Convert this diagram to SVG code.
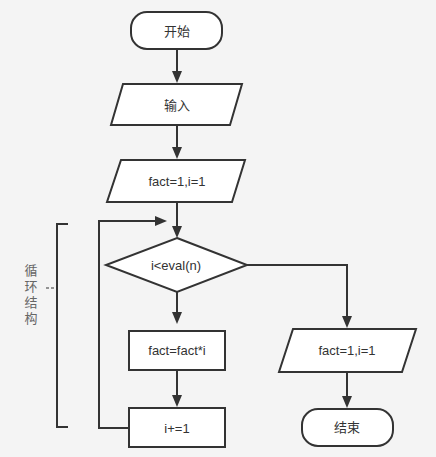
<svg xmlns="http://www.w3.org/2000/svg" width="436" height="457" viewBox="0 0 436 457">
<style>
.shape{fill:#ffffff;stroke:#333333;stroke-width:2}
.line{fill:none;stroke:#333333;stroke-width:2}
.lbl{font-family:"Liberation Sans","Noto Sans CJK SC",sans-serif;font-size:13px;fill:#333333;text-anchor:middle;dominant-baseline:central}
.note{font-family:"Noto Sans CJK SC","Liberation Sans",sans-serif;font-size:13px;fill:#666666;writing-mode:vertical-rl;letter-spacing:3px}
</style>
<defs>
<marker id="arr" markerUnits="userSpaceOnUse" markerWidth="12" markerHeight="10" refX="1" refY="5" orient="auto">
<path d="M0,0 L12,5 L0,10 z" fill="#333333"/>
</marker>
</defs>
<rect width="436" height="457" fill="#f4f4f4"/>
<g id="connectors">
<line class="line" x1="177" y1="49" x2="177" y2="72" marker-end="url(#arr)"/>
<line class="line" x1="177" y1="125" x2="177" y2="148" marker-end="url(#arr)"/>
<line class="line" x1="177" y1="202" x2="177" y2="227" marker-end="url(#arr)"/>
<line class="line" x1="177" y1="292" x2="177" y2="313" marker-end="url(#arr)"/>
<line class="line" x1="177" y1="370" x2="177" y2="396" marker-end="url(#arr)"/>
<polyline class="line" points="129,428 99,428 99,221 156,221" marker-end="url(#arr)"/>
<polyline class="line" points="247,265 347,265 347,317" marker-end="url(#arr)"/>
<line class="line" x1="347" y1="372" x2="347" y2="397" marker-end="url(#arr)"/>
</g>
<g id="start">
<rect class="shape" x="131" y="12" width="91" height="37" rx="16" ry="16"/>
<text class="lbl" x="177" y="31">开始</text>
</g>
<g id="input">
<polygon class="shape" points="123,84 242,84 230,125 111,125"/>
<text class="lbl" x="177" y="105">输入</text>
</g>
<g id="init">
<polygon class="shape" points="121,160 245,160 232,202 107,202"/>
<text class="lbl" x="177" y="181">fact=1,i=1</text>
</g>
<g id="cond">
<polygon class="shape" points="177,238 247,265 177,292 106,265"/>
<text class="lbl" x="176" y="265">i&lt;eval(n)</text>
</g>
<g id="mult">
<rect class="shape" x="129" y="331" width="96" height="39"/>
<text class="lbl" x="177" y="350">fact=fact*i</text>
</g>
<g id="inc">
<rect class="shape" x="129" y="408" width="96" height="39"/>
<text class="lbl" x="177" y="428">i+=1</text>
</g>
<g id="output">
<polygon class="shape" points="293,329 416,329 402,372 279,372"/>
<text class="lbl" x="347" y="350">fact=1,i=1</text>
</g>
<g id="end">
<rect class="shape" x="302" y="409" width="91" height="37" rx="16" ry="16"/>
<text class="lbl" x="347" y="427">结束</text>
</g>
<g id="loop-note">
<polyline class="line" points="68,224 57,224 57,427 68,427"/>
<line x1="46" y1="288" x2="56" y2="288" stroke="#333333" stroke-width="1" stroke-dasharray="3,2"/>
<text class="note" x="31" y="264">循环结构</text>
</g>
</svg>
